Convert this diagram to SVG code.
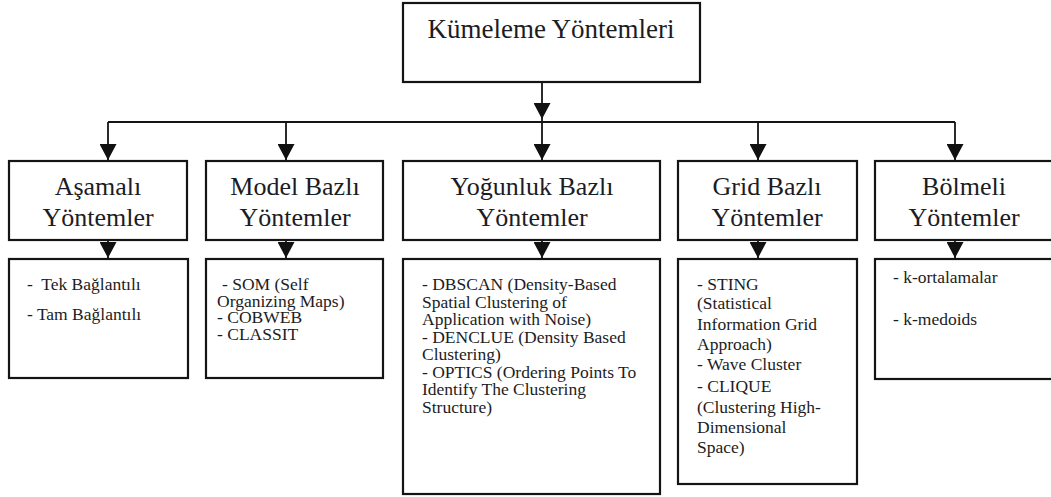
<svg xmlns="http://www.w3.org/2000/svg" width="1051" height="497" viewBox="0 0 1051 497">
  <defs>
    <style>
      .box { fill: #ffffff; stroke: #141414; stroke-width: 2.2; }
      .wire { fill: none; stroke: #141414; stroke-width: 1.8; }
      .title { font-size: 27px; fill: #1c1c24; text-anchor: middle; }
      .head { font-size: 26px; fill: #1c1c24; text-anchor: middle; }
      .item { font-size: 17.5px; fill: #1c1c24; }
    </style>
    <marker id="arrow" viewBox="0 0 16 17" markerUnits="userSpaceOnUse" markerWidth="16" markerHeight="17" refX="16" refY="8.5" orient="auto">
      <path d="M0,0 L16,8.5 L0,17 z" fill="#111111"/>
    </marker>
  </defs>

  <rect width="1051" height="497" fill="#ffffff"/>

  <!-- connectors -->
  <g id="connectors">
    <line class="wire" x1="542" y1="82" x2="542" y2="119" marker-end="url(#arrow)"/>
    <line class="wire" x1="108" y1="122" x2="955" y2="122"/>
    <line class="wire" x1="108" y1="122" x2="108" y2="160" marker-end="url(#arrow)"/>
    <line class="wire" x1="286" y1="122" x2="286" y2="160" marker-end="url(#arrow)"/>
    <line class="wire" x1="542" y1="119" x2="542" y2="160" marker-end="url(#arrow)"/>
    <line class="wire" x1="758" y1="122" x2="758" y2="160" marker-end="url(#arrow)"/>
    <line class="wire" x1="955" y1="122" x2="955" y2="160" marker-end="url(#arrow)"/>
    <line class="wire" x1="108" y1="240" x2="108" y2="258" marker-end="url(#arrow)"/>
    <line class="wire" x1="286" y1="240" x2="286" y2="258" marker-end="url(#arrow)"/>
    <line class="wire" x1="542" y1="240" x2="542" y2="258" marker-end="url(#arrow)"/>
    <line class="wire" x1="758" y1="240" x2="758" y2="258" marker-end="url(#arrow)"/>
    <line class="wire" x1="955" y1="240" x2="955" y2="258" marker-end="url(#arrow)"/>
  </g>

  <!-- root -->
  <g id="root">
    <rect class="box" x="403" y="3" width="297" height="79"/>
    <text class="title" font-family="Liberation Serif" x="551" y="38">Kümeleme Yöntemleri</text>
  </g>

  <!-- category headers -->
  <g id="hierarchical">
    <rect class="box" x="9" y="161" width="178" height="79"/>
    <text class="head" font-family="Liberation Serif" x="98" y="195">Aşamalı</text>
    <text class="head" font-family="Liberation Serif" x="98" y="226">Yöntemler</text>
  </g>
  <g id="model">
    <rect class="box" x="206" y="161" width="177" height="79"/>
    <text class="head" font-family="Liberation Serif" x="295" y="195">Model Bazlı</text>
    <text class="head" font-family="Liberation Serif" x="295" y="226">Yöntemler</text>
  </g>
  <g id="density">
    <rect class="box" x="403" y="161" width="257" height="79"/>
    <text class="head" font-family="Liberation Serif" x="532" y="195">Yoğunluk Bazlı</text>
    <text class="head" font-family="Liberation Serif" x="532" y="226">Yöntemler</text>
  </g>
  <g id="grid">
    <rect class="box" x="678" y="161" width="179" height="79"/>
    <text class="head" font-family="Liberation Serif" x="767" y="195">Grid Bazlı</text>
    <text class="head" font-family="Liberation Serif" x="767" y="226">Yöntemler</text>
  </g>
  <g id="partitional">
    <rect class="box" x="875" y="161" width="180" height="79"/>
    <text class="head" font-family="Liberation Serif" x="964" y="195">Bölmeli</text>
    <text class="head" font-family="Liberation Serif" x="964" y="226">Yöntemler</text>
  </g>

  <!-- method lists -->
  <g id="hierarchical-list">
    <rect class="box" x="9" y="259" width="179" height="119"/>
    <text class="item" font-family="Liberation Serif" x="27" y="290" xml:space="preserve">-  Tek Bağlantılı</text>
    <text class="item" font-family="Liberation Serif" x="27" y="320">- Tam Bağlantılı</text>
  </g>
  <g id="model-list">
    <rect class="box" x="206" y="259" width="177" height="119"/>
    <text class="item" font-family="Liberation Serif" x="222" y="290">- SOM (Self</text>
    <text class="item" font-family="Liberation Serif" x="217" y="307">Organizing Maps)</text>
    <text class="item" font-family="Liberation Serif" x="217" y="323">- COBWEB</text>
    <text class="item" font-family="Liberation Serif" x="217" y="340">- CLASSIT</text>
  </g>
  <g id="density-list">
    <rect class="box" x="403" y="259" width="257" height="235"/>
    <text class="item" font-family="Liberation Serif" x="422" y="290">- DBSCAN (Density-Based</text>
    <text class="item" font-family="Liberation Serif" x="422" y="308">Spatial Clustering of</text>
    <text class="item" font-family="Liberation Serif" x="422" y="325">Application with Noise)</text>
    <text class="item" font-family="Liberation Serif" x="422" y="343">- DENCLUE (Density Based</text>
    <text class="item" font-family="Liberation Serif" x="422" y="360">Clustering)</text>
    <text class="item" font-family="Liberation Serif" x="422" y="378">- OPTICS (Ordering Points To</text>
    <text class="item" font-family="Liberation Serif" x="422" y="395">Identify The Clustering</text>
    <text class="item" font-family="Liberation Serif" x="422" y="413">Structure)</text>
  </g>
  <g id="grid-list">
    <rect class="box" x="678" y="259" width="179" height="225"/>
    <text class="item" font-family="Liberation Serif" x="697" y="290">- STING</text>
    <text class="item" font-family="Liberation Serif" x="697" y="309">(Statistical</text>
    <text class="item" font-family="Liberation Serif" x="697" y="330">Information Grid</text>
    <text class="item" font-family="Liberation Serif" x="697" y="350">Approach)</text>
    <text class="item" font-family="Liberation Serif" x="697" y="370">- Wave Cluster</text>
    <text class="item" font-family="Liberation Serif" x="697" y="392">- CLIQUE</text>
    <text class="item" font-family="Liberation Serif" x="697" y="413">(Clustering High-</text>
    <text class="item" font-family="Liberation Serif" x="697" y="433">Dimensional</text>
    <text class="item" font-family="Liberation Serif" x="697" y="453">Space)</text>
  </g>
  <g id="partitional-list">
    <rect class="box" x="875" y="259" width="180" height="120"/>
    <text class="item" font-family="Liberation Serif" x="893" y="283">- k-ortalamalar</text>
    <text class="item" font-family="Liberation Serif" x="893" y="325">- k-medoids</text>
  </g>
</svg>
